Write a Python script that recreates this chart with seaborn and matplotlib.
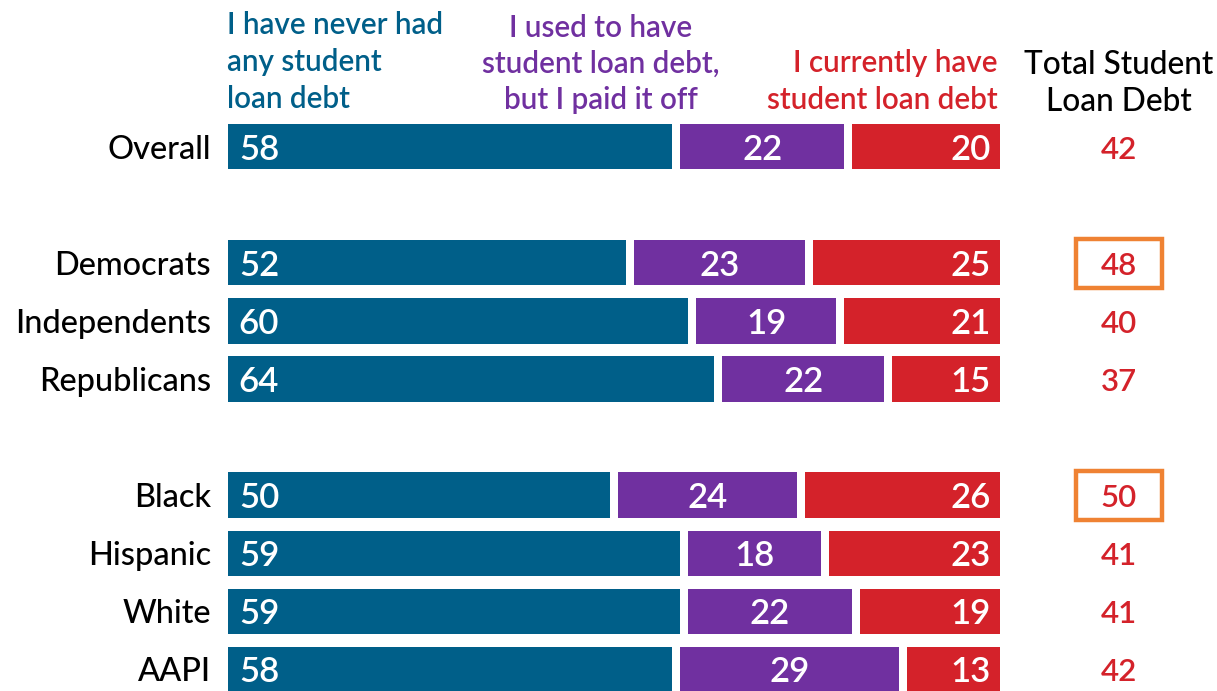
import matplotlib.pyplot as plt
import seaborn as sns
import pandas as pd
from matplotlib.patches import Rectangle

# Dados
grupos = ["Overall", "Democrats", "Independents", "Republicans",
          "Black", "Hispanic", "White", "AAPI"]
posicoes = [0, 2, 3, 4, 6, 7, 8, 9]  # linhas vazias separam os blocos
nunca = [58, 52, 60, 64, 50, 59, 59, 58]
pagou = [22, 23, 19, 22, 24, 18, 22, 29]
atual = [20, 25, 21, 15, 26, 23, 19, 13]
destaque = ["Democrats", "Black"]

cabecalhos = ["I have never had\nany student\nloan debt",
              "I used to have\nstudent loan debt,\nbut I paid it off",
              "I currently have\nstudent loan debt"]
titulo_total = "Total Student\nLoan Debt"

# Cores
azul = "#005f89"
roxo = "#7030a0"
vermelho = "#d4222a"
laranja = "#ef8233"

sns.set_theme(style="white")
plt.rcParams["font.family"] = ["Lato", "DejaVu Sans"]

# Barras empilhadas (normalizadas para 100): desenha o acumulado de trás para frente
linhas = []
for i in range(len(grupos)):
    soma = nunca[i] + pagou[i] + atual[i]
    linhas.append({"pos": posicoes[i], "serie": "atual", "valor": 100.0})
    linhas.append({"pos": posicoes[i], "serie": "pagou", "valor": (nunca[i] + pagou[i]) * 100.0 / soma})
    linhas.append({"pos": posicoes[i], "serie": "nunca", "valor": nunca[i] * 100.0 / soma})
df = pd.DataFrame(linhas)

fig = plt.figure(figsize=(12.17, 6.91), dpi=100)
ax = fig.add_axes([0, 0, 1, 1])

sns.barplot(data=df, x="valor", y="pos", hue="serie", orient="h",
            hue_order=["atual", "pagou", "nunca"],
            palette={"atual": vermelho, "pagou": roxo, "nunca": azul},
            saturation=1, dodge=False, native_scale=True, width=0.914, errorbar=None,
            edgecolor="white", linewidth=5.76, legend=False, ax=ax)

ax.set_xlim(-28.72, 127.31)
ax.set_ylim(9.379, -2.534)
ax.set_axis_off()

# Rótulos das linhas e valores
for i, g in enumerate(grupos):
    y = posicoes[i] + 0.05
    soma = nunca[i] + pagou[i] + atual[i]
    meio_roxo = (nunca[i] + pagou[i] / 2) * 100.0 / soma
    ax.text(-1.7, y, g, ha="right", va="center", fontsize=23.4, color="black",
            fontweight="medium")
    ax.text(1.9, y, str(nunca[i]), ha="left", va="center", fontsize=25,
            color="white", fontweight="semibold")
    ax.text(meio_roxo, y, str(pagou[i]), ha="center", va="center",
            fontsize=25, color="white", fontweight="semibold")
    ax.text(98.3, y, str(atual[i]), ha="right", va="center", fontsize=25,
            color="white", fontweight="semibold")
    total = pagou[i] + atual[i]
    ax.text(114.7, y, str(total), ha="center", va="center", fontsize=22.5,
            color=vermelho, fontweight="semibold")
    if g in destaque:
        ax.add_patch(Rectangle((109.2, posicoes[i] - 0.41), 11.1, 0.84, fill=False,
                               edgecolor=laranja, linewidth=3.2, clip_on=False))

# Cabeçalhos
ax.text(0.4, -0.58, cabecalhos[0], ha="left", va="bottom", fontsize=21.3,
        color=azul, fontweight="semibold", linespacing=1.4)
ax.text(48.3, -0.57, cabecalhos[1], ha="center", va="bottom", fontsize=21.3,
        color=roxo, fontweight="semibold", linespacing=1.35)
ax.text(99.2, -0.56, cabecalhos[2], ha="right", va="bottom", fontsize=21.3,
        color=vermelho, fontweight="semibold", linespacing=1.4)
ax.text(114.7, -0.52, titulo_total, ha="center", va="bottom", fontsize=22.8,
        color="black", fontweight="medium", linespacing=1.3)

fig.savefig("out.png", dpi=100)
